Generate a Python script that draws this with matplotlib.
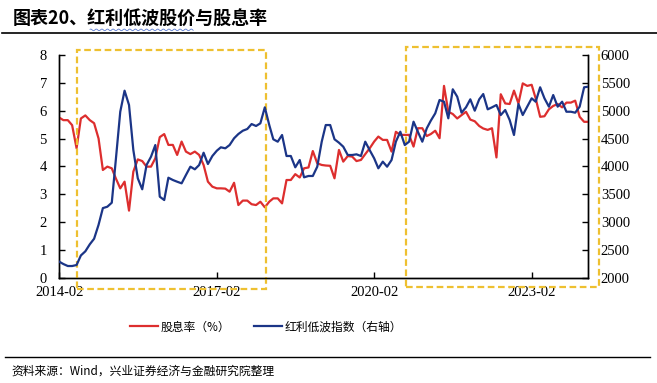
import numpy as np
import pandas as pd
import matplotlib
matplotlib.use("Agg")
import matplotlib.pyplot as plt
import matplotlib.transforms as mtransforms
from matplotlib.patches import Rectangle

plt.rcParams['font.family'] = ['Noto Sans CJK SC', 'DejaVu Sans']

# monthly data, 2014-02 .. 2024-03
dates = pd.date_range('2014-02-01', periods=122, freq='MS')

dividend_yield = [
    5.75, 5.66, 5.66, 5.48, 4.65, 5.72, 5.83, 5.66, 5.55, 5.00,
    3.87, 3.99, 3.93, 3.57, 3.21, 3.45, 2.41, 3.81, 4.25, 4.19,
    3.99, 3.99, 4.29, 5.05, 5.16, 4.77, 4.77, 4.41, 4.89, 4.53,
    4.44, 4.53, 4.41, 4.05, 3.45, 3.27, 3.21, 3.21, 3.20, 3.09,
    3.41, 2.61, 2.77, 2.77, 2.64, 2.61, 2.73, 2.53, 2.73, 2.85,
    2.85, 2.67, 3.51, 3.51, 3.72, 3.60, 3.93, 3.96, 4.55, 4.11,
    4.05, 4.03, 4.02, 3.57, 4.59, 4.17, 4.37, 4.35, 4.19, 4.23,
    4.44, 4.65, 4.89, 5.07, 4.95, 4.95, 4.53, 5.24, 5.13, 5.13,
    5.13, 4.71, 5.37, 5.37, 5.09, 5.16, 5.28, 5.01, 6.89, 5.96,
    5.88, 5.72, 5.84, 5.96, 5.68, 5.62, 5.45, 5.36, 5.31, 5.37,
    4.32, 6.59, 6.26, 6.24, 6.72, 6.26, 6.98, 6.89, 6.93, 6.44,
    5.78, 5.80, 6.05, 6.17, 6.24, 6.12, 6.29, 6.29, 6.36, 5.78,
    5.60, 5.60,
]

index_level = [
    2287, 2246, 2210, 2210, 2228, 2400, 2474, 2600, 2700, 2950,
    3250, 3275, 3347, 4114, 4981, 5359, 5102, 4294, 3785, 3588,
    4024, 4173, 4383, 3455, 3395, 3796, 3755, 3724, 3695, 3844,
    3994, 3947, 4024, 4245, 4042, 4186, 4281, 4342, 4324, 4383,
    4504, 4581, 4640, 4671, 4760, 4725, 4773, 5060, 4742, 4486,
    4443, 4563, 4186, 4186, 3983, 4114, 3803, 3827, 3827, 3994,
    4443, 4742, 4742, 4486, 4425, 4353, 4204, 4204, 4216, 4186,
    4443, 4290, 4144, 3965, 4084, 3994, 4114, 4443, 4622, 4383,
    4443, 4802, 4622, 4443, 4683, 4820, 4952, 5192, 5161, 4863,
    5384, 5251, 4964, 5060, 5204, 5000, 5204, 5299, 5024, 5060,
    5102, 4922, 5012, 4832, 4563, 5120, 4922, 5072, 5222, 5161,
    5420, 5222, 5072, 5281, 5072, 5161, 4981, 4981, 4964, 5072,
    5420, 5431,
]

xtick_labels = ['2014-02', '2017-02', '2020-02', '2023-02']
left_ticks = list(range(0, 9))
right_ticks = list(range(2000, 6001, 500))

# highlighted periods (yellow dashed boxes)
box_periods = [('2014-06-01', '2018-01-10'), ('2020-09-10', '2024-05-15')]

RED = '#DD2E2E'
NAVY = '#1B3587'
GOLD = '#EEC030'
serif = ['Liberation Serif', 'DejaVu Serif']

fig = plt.figure(figsize=(6.57, 3.83), dpi=100)
ax = fig.add_axes([0.0903, 0.2749, 0.8051, 0.5815])
ax2 = ax.twinx()

ax.plot(dates, dividend_yield, color=RED, lw=1.6, label='股息率（%）', zorder=3)
ax2.plot(dates, index_level, color=NAVY, lw=1.6, label='红利低波指数（右轴）', zorder=3)

ax.set_xlim(dates[0], dates[-1])
ax.set_ylim(0, 8)
ax2.set_ylim(2000, 6000)
ax.set_yticks(left_ticks)
ax2.set_yticks(right_ticks)
ax.set_xticks(pd.to_datetime(xtick_labels))
ax.set_xticklabels(xtick_labels)

for a in (ax, ax2):
    a.spines['top'].set_visible(False)
    for s in ('left', 'right', 'bottom'):
        a.spines[s].set_linewidth(1.0)
        a.spines[s].set_color('black')
ax.tick_params(axis='y', direction='in', length=4, width=1, pad=9)
ax2.tick_params(axis='y', direction='in', length=4, width=1, pad=9)
ax.tick_params(axis='x', direction='in', length=4, width=1, pad=6)
for lab in ax.get_yticklabels() + ax2.get_yticklabels() + ax.get_xticklabels():
    lab.set_family(serif)
    lab.set_fontsize(10.5)

# dashed highlight boxes, x in dates, y in axes fraction
trans = mtransforms.blended_transform_factory(ax.transData, ax.transAxes)
box_y = [(-0.050, 1.022), (-0.043, 1.037)]
for (d0, d1), (y0, y1) in zip(box_periods, box_y):
    x0 = matplotlib.dates.date2num(pd.Timestamp(d0))
    x1 = matplotlib.dates.date2num(pd.Timestamp(d1))
    ax.add_patch(Rectangle((x0, y0), x1 - x0, y1 - y0, transform=trans,
                           fill=False, edgecolor=GOLD, lw=1.6,
                           linestyle=(0, (3, 1.6)), clip_on=False, zorder=5))

# legend
h1, l1 = ax.get_legend_handles_labels()
h2, l2 = ax2.get_legend_handles_labels()
fig.legend(h1 + h2, l1 + l2, loc='center', bbox_to_anchor=(0.405, 0.146),
           ncol=2, frameon=False, fontsize=8.5, handlelength=2.4,
           handletextpad=0.2, columnspacing=2.0)

# title, rules and source
fig.text(0.02, 0.953, '图表20、红利低波股价与股息率', fontsize=13,
         fontweight='bold', va='center', ha='left')
xs = np.linspace(0.137, 0.294, 120)
fig.add_artist(plt.Line2D(xs, 0.922 + 0.0022 * np.sin(xs * 2 * np.pi / 0.0085),
                          color='#5B7BD0', lw=0.6))
fig.add_artist(plt.Line2D([0.003, 1.0], [0.914, 0.914], color='black', lw=1.2))
fig.add_artist(plt.Line2D([0.008, 0.99], [0.067, 0.067], color='black', lw=1.0))
fig.text(0.018, 0.031, '资料来源：Wind，兴业证券经济与金融研究院整理', fontsize=8.5,
         va='center', ha='left')

fig.savefig('out.png', dpi=100)
